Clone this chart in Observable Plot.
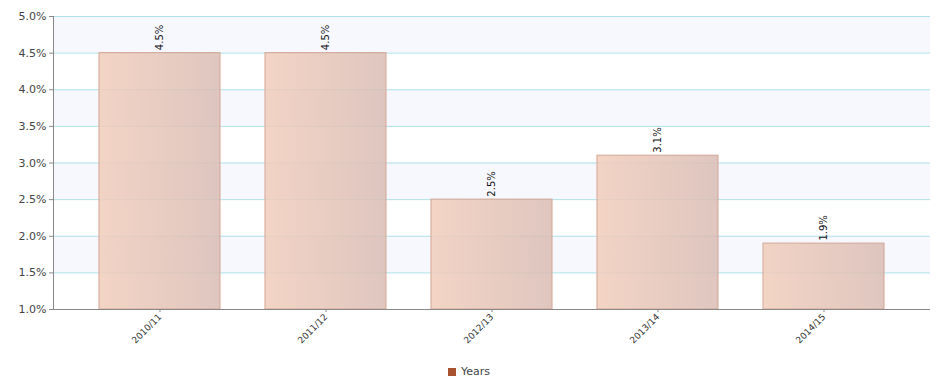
<!DOCTYPE html>
<html>
<head>
<meta charset="utf-8">
<script src="https://cdn.jsdelivr.net/npm/d3@7"></script>
<script src="https://cdn.jsdelivr.net/npm/@observablehq/plot@0.6"></script>
<style>
  body { margin: 0; background: #fff; font-family: "DejaVu Sans", Verdana, sans-serif; }
  #chart { width: 936px; }
  .legend { display: flex; justify-content: center; align-items: center; height: 19px; font-size: 11px; color: #444; margin-left: 2px; }
  .legend .sw { width: 8px; height: 8px; background: #a9522f; margin-right: 5px; }
</style>
</head>
<body>
<div id="chart"></div>
<script>
const years = ["2010/11", "2011/12", "2012/13", "2013/14", "2014/15"];
const values = [4.5, 4.5, 2.5, 3.1, 1.9];
const yTicks = [1.0, 1.5, 2.0, 2.5, 3.0, 3.5, 4.0, 4.5, 5.0];
const bandRanges = [[1.5, 2.0], [2.5, 3.0], [3.5, 4.0], [4.5, 5.0]];
const seriesName = "Years";

const data = years.map((y, i) => ({year: y, value: values[i]}));
const bands = bandRanges.map(([a, b]) => ({a, b}));

const fmt = d => d.toFixed(1) + "%";

const plot = Plot.plot({
  width: 936,
  height: 362,
  marginTop: 16,
  marginLeft: 53,
  marginRight: 6,
  marginBottom: 53,
  style: {fontFamily: "'DejaVu Sans', Verdana, sans-serif", fontSize: "11px", color: "#444", background: "#fff"},
  x: {domain: years, paddingInner: 0.265, paddingOuter: 0.274, round: false, label: null},
  y: {domain: [1, 5], label: null},
  marks: [
    Plot.rectY(bands, {y1: "a", y2: "b", fill: "#f6f8fe"}),
    Plot.ruleY(yTicks.slice(1), {stroke: "#aee0ea", strokeWidth: 1}),
    Plot.rectY(data, {x: "year", y1: 1, y2: "value", fill: "url(#barGrad)", fillOpacity: 0.85, stroke: "#d4a595", strokeWidth: 1, insetLeft: 0.5, insetRight: 0.5}),
    Plot.text(data, {x: "year", y: "value", text: d => fmt(d.value), rotate: -90, textAnchor: "start", dy: -3, fontSize: 10, fill: "#111"}),
    Plot.axisY({ticks: yTicks, tickFormat: fmt, tickSize: 4, stroke: "#888", fill: "#444", fontSize: 11, tickPadding: 3}),
    Plot.frame({anchor: "left", stroke: "#888"}),
    Plot.ruleY([1], {stroke: "#888", strokeWidth: 1.2}),
    Plot.axisX({tickRotate: -45, tickSize: 3, stroke: "#888", fill: "#333", fontSize: 9, tickPadding: 3})
  ]
});

// Add gradient definition for the bars
const svgns = "http://www.w3.org/2000/svg";
const defs = document.createElementNS(svgns, "defs");
const grad = document.createElementNS(svgns, "linearGradient");
grad.setAttribute("id", "barGrad");
grad.setAttribute("x1", "0"); grad.setAttribute("x2", "1");
grad.setAttribute("y1", "0"); grad.setAttribute("y2", "0");
[["0%", "#f1cdbb"], ["100%", "#d9bcb4"]].forEach(([o, c]) => {
  const s = document.createElementNS(svgns, "stop");
  s.setAttribute("offset", o);
  s.setAttribute("stop-color", c);
  grad.appendChild(s);
});
defs.appendChild(grad);
plot.insertBefore(defs, plot.firstChild);

document.getElementById("chart").appendChild(plot);

const legend = document.createElement("div");
legend.className = "legend";
legend.innerHTML = `<span class="sw"></span><span>${seriesName}</span>`;
document.getElementById("chart").appendChild(legend);
</script>
</body>
</html>
